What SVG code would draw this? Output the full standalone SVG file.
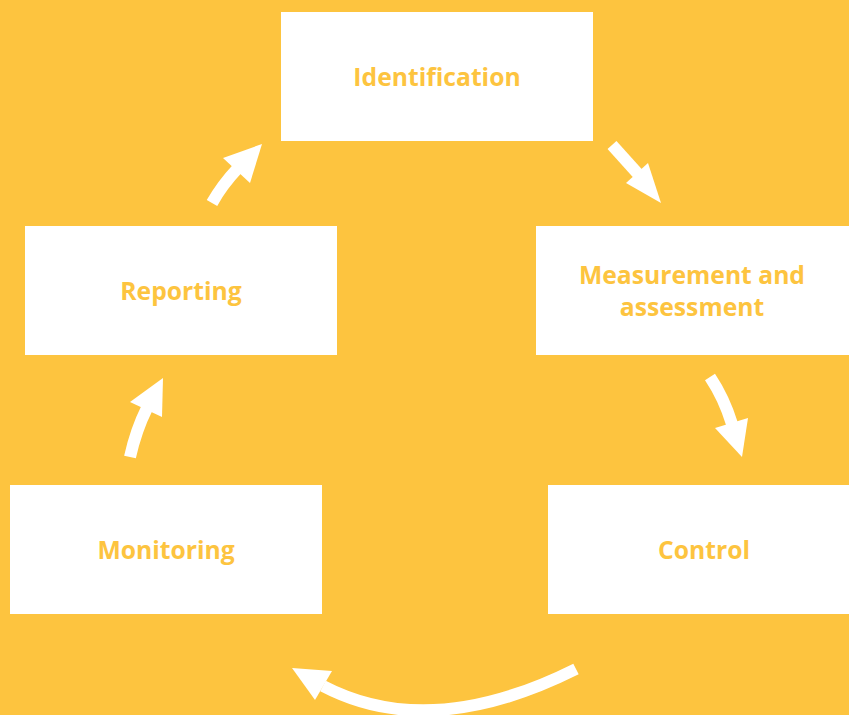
<svg xmlns="http://www.w3.org/2000/svg" width="849" height="715" viewBox="0 0 849 715">
<style>
.box{fill:#ffffff}
.lbl{font-family:"Open Sans","Noto Sans",sans-serif;font-weight:700;font-size:24.7px;fill:#fdc43f;text-anchor:middle;dominant-baseline:central}
.shaft{fill:none;stroke:#ffffff;stroke-width:12}
.head{fill:#ffffff}
</style>
<rect width="849" height="715" fill="#fdc43f"/>
<g id="identification"><rect class="box" x="281" y="12" width="312" height="129"/><text class="lbl" x="437" y="76">Identification</text></g>
<g id="measurement"><rect class="box" x="536" y="226" width="313" height="129"/><text class="lbl" x="692" y="274">Measurement and</text><text class="lbl" x="692" y="306">assessment</text></g>
<g id="control"><rect class="box" x="548" y="485" width="312" height="129"/><text class="lbl" x="704" y="549">Control</text></g>
<g id="monitoring"><rect class="box" x="10" y="485" width="312" height="129"/><text class="lbl" x="166" y="549">Monitoring</text></g>
<g id="reporting"><rect class="box" x="25" y="226" width="312" height="129"/><text class="lbl" x="181" y="290">Reporting</text></g>
<g id="connectors">
<path class="shaft" d="M612,145 L639,175"/>
<polygon class="head" points="661,203 626,183 648,163"/>
<path class="shaft" d="M710,377 Q724,398 732,424"/>
<polygon class="head" points="742,457 715,428 748,418"/>
<path class="shaft" d="M576,669 Q430,742 323,686"/>
<polygon class="head" points="292,668 332,671 315,700"/>
<path class="shaft" d="M130,457 Q136,430 147,408"/>
<polygon class="head" points="163,378 130,402 162,417"/>
<path class="shaft" d="M212,203 Q222,185 238,168"/>
<polygon class="head" points="262,144 223,158 250,183"/>
</g>
</svg>
